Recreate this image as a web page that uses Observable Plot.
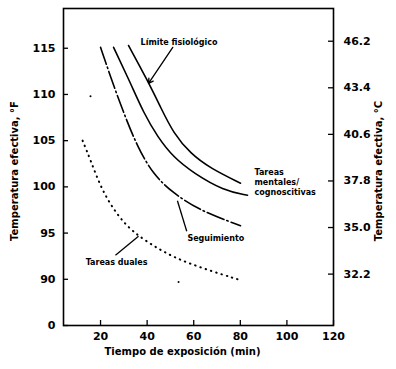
<!DOCTYPE html>
<html><head><meta charset="utf-8">
<script src="https://cdn.jsdelivr.net/npm/d3@7"></script>
<script src="https://cdn.jsdelivr.net/npm/@observablehq/plot@0.6"></script>
<style>body{margin:0;background:#fff} svg{font-family:"DejaVu Sans",sans-serif}</style>
</head><body><div id="chart"></div>
<script>
// Data (time in min, effective temperature in °F)
const limiteX = [32.0, 40.2, 45.8, 51.3, 58.6, 67.2, 80.1];
const limiteY = [115.3, 111.5, 108.6, 105.8, 103.6, 102.0, 100.4];
const mentalesX = [25.6, 32.9, 38.5, 44.5, 51.3, 59.9, 72.8, 83.1];
const mentalesY = [115.1, 111.2, 108.0, 105.4, 103.2, 101.5, 99.6, 99.1];
const seguimientoX = [20.0, 24.3, 29.9, 35.9, 42.7, 51.3, 62.9, 80.1];
const seguimientoY = [115.1, 111.9, 108.0, 104.3, 101.3, 99.3, 97.4, 95.8];
const dualesX = [12.3, 15.7, 20.0, 25.6, 33.0, 45.8, 57.3, 80.1];
const dualesY = [105.0, 102.9, 100.0, 97.5, 95.2, 93.1, 91.7, 89.9];
const strayX = [15.7, 53.5];
const strayY = [109.8, 89.7];

const xTicks = [20, 40, 60, 80, 100, 120];
const leftTicks = [85, 90, 95, 100, 105, 110, 115];
const leftTickLabels = ["0", "90", "95", "100", "105", "110", "115"];
const rightTicksC = [32.2, 35.0, 37.8, 40.6, 43.4, 46.2];
const rightShift = 0.6;

const labels = [
  {text: "Límite fisiológico", x: 37.2, y: 115.65},
  {text: "Tareas", x: 86.1, y: 101.6},
  {text: "mentales/", x: 86.1, y: 100.5},
  {text: "cognoscitivas", x: 86.1, y: 99.35},
  {text: "Seguimiento", x: 57.3, y: 94.4},
  {text: "Tareas duales", x: 13.6, y: 91.8}
];
const pointers = [
  {x1: 57.0, y1: 95.2, x2: 53.0, y2: 98.5},
  {x1: 26.4, y1: 92.6, x2: 36.3, y2: 94.65}
];
const arrowPt = [{x1: 51.0, y1: 115.1, x2: 40.6, y2: 111.2}];

const toPts = (xs, ys) => xs.map((x, i) => ({x, y: ys[i]}));

const chart = Plot.plot({
  width: 396, height: 369,
  marginLeft: 63, marginRight: 63, marginTop: 8, marginBottom: 44,
  x: {domain: [4.1, 120]},
  y: {domain: [85, 119.3]},
  style: {fontFamily: "DejaVu Sans, sans-serif", color: "black", background: "white"},
  marks: [
    Plot.frame({stroke: "black", strokeWidth: 1.6}),
    Plot.axisY(leftTicks, {anchor: "left", tickSize: 0, tickPadding: 8, tickFormat: d => leftTickLabels[leftTicks.indexOf(d)], fontSize: 11, fontWeight: "bold", label: null}),
    Plot.tickY(leftTicks, {y: d => d, insetRight: 265, strokeWidth: 1.3}),
    Plot.axisX(xTicks, {anchor: "bottom", tickSize: 0, tickPadding: 7, fontSize: 11, fontWeight: "bold", label: null}),
    Plot.tickX(xTicks, {x: d => d, insetTop: 312, strokeWidth: 1.3}),
    Plot.tickY(rightTicksC, {y: c => c * 9 / 5 + 32 + rightShift, insetLeft: 265, strokeWidth: 1.3}),
    Plot.text(rightTicksC, {y: c => c * 9 / 5 + 32 + rightShift, text: c => c.toFixed(1), frameAnchor: "right", textAnchor: "start", dx: 10, fontSize: 11, fontWeight: "bold"}),
    Plot.line(toPts(limiteX, limiteY), {x: "x", y: "y", curve: "basis", strokeWidth: 1.6}),
    Plot.line(toPts(mentalesX, mentalesY), {x: "x", y: "y", curve: "basis", strokeWidth: 1.6}),
    Plot.line(toPts(seguimientoX, seguimientoY), {x: "x", y: "y", curve: "basis", strokeWidth: 1.6, strokeDasharray: "18,3,1.5,3"}),
    Plot.line(toPts(dualesX, dualesY), {x: "x", y: "y", curve: "basis", strokeWidth: 2, strokeDasharray: "0.5,5", strokeLinecap: "round"}),
    Plot.dot(toPts(strayX, strayY), {x: "x", y: "y", r: 1, fill: "black", stroke: null}),
    Plot.arrow(arrowPt, {x1: "x1", y1: "y1", x2: "x2", y2: "y2", strokeWidth: 1.3, headLength: 6}),
    Plot.link(pointers, {x1: "x1", y1: "y1", x2: "x2", y2: "y2", strokeWidth: 1.3}),
    Plot.text(labels, {x: "x", y: "y", text: "text", textAnchor: "start", fontSize: 8, fontWeight: "bold"}),
    Plot.text(["Tiempo de exposición (min)"], {frameAnchor: "bottom", textAnchor: "middle", dy: 29, dx: -16, fontSize: 10, fontWeight: "bold"}),
    Plot.text(["Temperatura efectiva, °F"], {frameAnchor: "left", textAnchor: "middle", dx: -49, dy: 4, rotate: -90, fontSize: 10, fontWeight: "bold"}),
    Plot.text(["Temperatura efectiva, °C"], {frameAnchor: "right", textAnchor: "middle", dx: 45, dy: 4, rotate: -90, fontSize: 10, fontWeight: "bold"})
  ]
});
document.getElementById("chart").append(chart);
</script></body></html>
